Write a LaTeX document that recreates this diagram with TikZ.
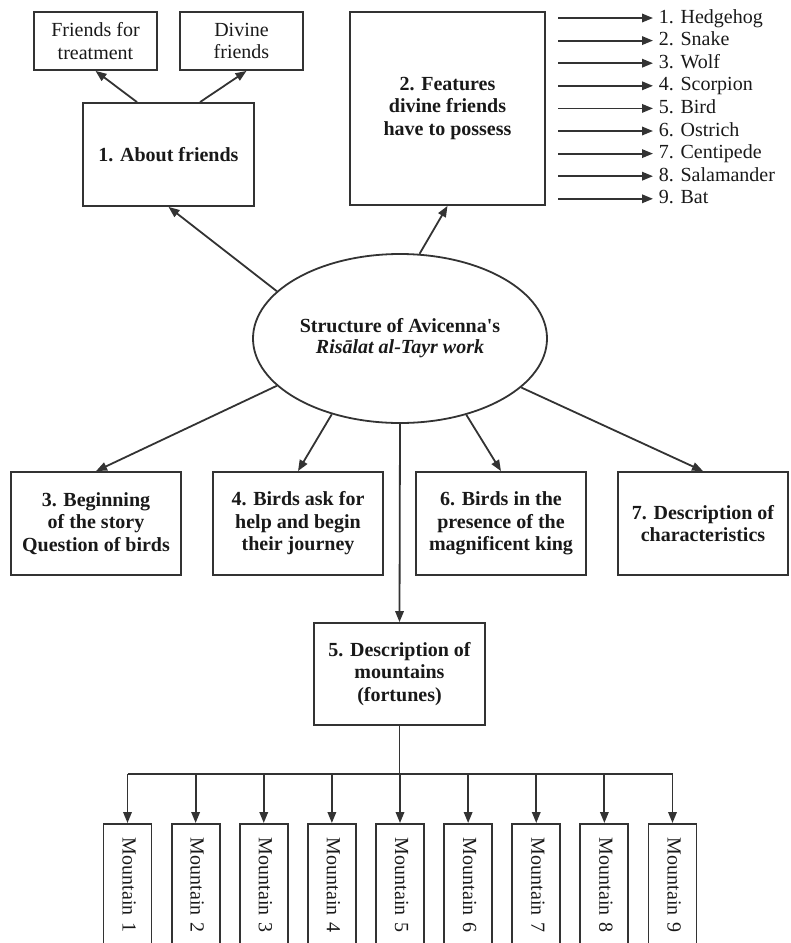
\documentclass[tikz,border=0pt]{standalone}
\usepackage{fontspec}
\setmainfont{Liberation Serif}
\usetikzlibrary{arrows.meta,shapes.geometric}
\begin{document}
\begin{tikzpicture}[x=1pt,y=-1pt,line width=1.8pt,
  lc/.style={draw=black!80},
  arr/.style={lc,-{Triangle[length=11pt,width=8.5pt]}},
  txt/.style={text=black!90,font=\fontsize{20}{22.5}\selectfont},
  box/.style={lc,txt,align=center,inner sep=2pt,font=\fontsize{20}{22.5}\selectfont\bfseries},
  sbox/.style={lc,txt,align=center,inner sep=2pt,minimum width=123pt,minimum height=58pt},
  lbl/.style={txt,anchor=west,inner xsep=5pt,inner ysep=0pt,text height=14pt,text depth=4pt},
  mbox/.style={lc,txt,rotate=-90,anchor=west,minimum height=48pt,text width=110pt,align=left,
    inner xsep=14pt,inner ysep=0pt,text height=14pt,text depth=4pt}]
\useasboundingbox (0,0) rectangle (791,943);

% top left
\node[sbox] (ft) at (95.5,41) {Friends for\\treatment};
\node[sbox] (df) at (241.5,41) {Divine\\friends};
\node[box,minimum width=171pt,minimum height=103pt] (af) at (168.5,154.5) {1. About friends};
\draw[arr] ([xshift=-31.5pt]af.north) -- (ft.south);
\draw[arr] ([xshift=31.5pt]af.north) -- ([xshift=5pt]df.south);

% features
\node[box,minimum width=195pt,minimum height=193pt] (feat) at (447.5,108.5) {2. Features\\divine friends\\have to possess};
\foreach \t [count=\i] in {Hedgehog,Snake,Wolf,Scorpion,Bird,Ostrich,Centipede,Salamander,Bat}{
  \node[lbl] (L\i) at (653,{18+22.6*(\i-1)}) {\i. \t};
  \coordinate (S\i) at (558,{18+22.6*(\i-1)});
  \draw[arr] (S\i) -- (L\i.west);
}

% ellipse
\node[ellipse,lc,txt,minimum width=294pt,minimum height=169pt,inner sep=0pt,align=center,
  font=\fontsize{20}{21}\selectfont] (ell) at (400,338.5)
  {\textbf{Structure of Avicenna\textquotesingle s}\\\textbf{\textit{Risālat al-Tayr work}}};
\draw[arr] (ell.159) -- (af.south);
\draw[arr] (ell.77) -- (feat.south);

% middle row
\node[box,minimum width=170pt,minimum height=103pt] (b3) at (96,523.5) {3. Beginning\\of the story\\Question of birds};
\node[box,minimum width=170pt,minimum height=103pt] (b4) at (298,523.5) {4. Birds ask for\\help and begin\\their journey};
\node[box,minimum width=170pt,minimum height=103pt] (b6) at (501,523.5) {6. Birds in the\\presence of the\\magnificent king};
\node[box,minimum width=170pt,minimum height=103pt] (b7) at (703,523.5) {7. Description of\\characteristics};
\node[box,minimum width=171pt,minimum height=102pt] (b5) at (399.5,674) {5. Description of\\mountains\\(fortunes)};
\draw[arr] (ell.201) -- (b3.north);
\draw[arr] (ell.228) -- (b4.north);
\draw[arr] (ell.311) -- (b6.north);
\draw[arr] (ell.338) -- (b7.north);
\draw[arr] (ell.south) -- (b5.north);

% mountains
\foreach \i in {1,...,9}{
  \node[mbox] (m\i) at ({127.5+68.125*(\i-1)},823) {Mountain \i};
}
\coordinate (bus) at (399.5,774);
\draw[lc] (b5.south) -- (bus);
\draw[lc] (m1.west |- bus) -- (m9.west |- bus);
\foreach \i in {1,...,9}{
  \draw[arr] (m\i.west |- bus) -- (m\i.west);
}
\end{tikzpicture}
\end{document}
